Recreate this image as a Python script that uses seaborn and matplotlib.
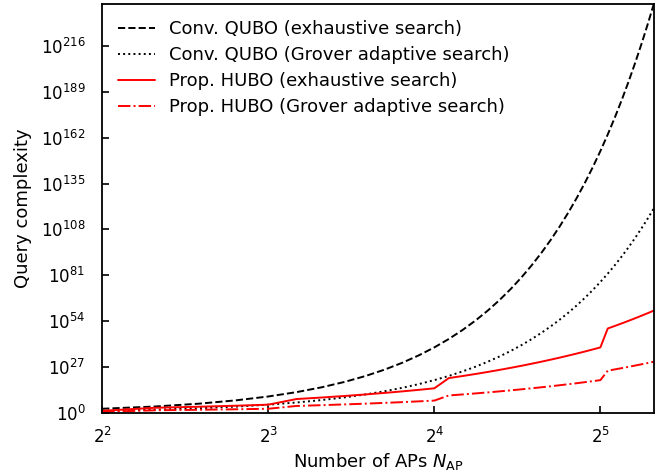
import numpy as np
import pandas as pd
import matplotlib
matplotlib.use("Agg")
import matplotlib.pyplot as plt
import seaborn as sns
from matplotlib.ticker import FixedLocator, FuncFormatter, NullLocator

# Number of APs
n_ap = list(range(4, 41))

# log10 of query complexity
conv_exh_exp = [2.41, 3.76, 5.42, 7.38, 9.63, 12.19, 15.05, 18.21, 21.67, 25.44,
                29.50, 33.87, 38.53, 43.50, 48.77, 54.34, 60.21, 66.38, 72.85, 79.62,
                86.70, 94.07, 101.75, 109.73, 118.00, 126.58, 135.46, 144.64, 154.13,
                163.91, 174.00, 184.38, 195.07, 206.06, 217.34, 228.93, 240.82]
conv_gas_exp = [1.20, 1.88, 2.71, 3.69, 4.82, 6.09, 7.53, 9.11, 10.84, 12.72,
                14.75, 16.93, 19.27, 21.75, 24.38, 27.17, 30.10, 33.19, 36.42, 39.81,
                43.35, 47.04, 50.87, 54.86, 59.00, 63.29, 67.73, 72.32, 77.06,
                81.96, 87.00, 92.19, 97.53, 103.03, 108.67, 114.46, 120.41]
prop_exh_exp = [1.20, 3.01, 3.61, 4.21, 4.82, 8.13, 9.03, 9.93, 10.84, 11.74,
                12.64, 13.55, 14.45, 20.47, 21.67, 22.88, 24.08, 25.29, 26.49, 27.69,
                28.90, 30.10, 31.31, 32.51, 33.72, 34.92, 36.12, 37.33, 38.53,
                49.67, 51.18, 52.68, 54.19, 55.69, 57.20, 58.70, 60.21]
prop_gas_exp = [0.60, 1.51, 1.81, 2.11, 2.41, 4.06, 4.52, 4.97, 5.42, 5.87,
                6.32, 6.77, 7.22, 10.24, 10.84, 11.44, 12.04, 12.64, 13.25, 13.85,
                14.45, 15.05, 15.65, 16.26, 16.86, 17.46, 18.06, 18.66, 19.27,
                24.83, 25.59, 26.34, 27.09, 27.85, 28.60, 29.35, 30.10]

labels = ["Conv. QUBO (exhaustive search)", "Conv. QUBO (Grover adaptive search)",
          "Prop. HUBO (exhaustive search)", "Prop. HUBO (Grover adaptive search)"]
y_ticks_exp = [0, 27, 54, 81, 108, 135, 162, 189, 216]
x_ticks = [4, 8, 16, 32]

sns.set_style("white")
plt.rcParams["font.family"] = ["DejaVu Sans"]
plt.rcParams["font.size"] = 13
plt.rcParams["axes.linewidth"] = 1.3
for k in ["text.color", "axes.labelcolor", "xtick.color", "ytick.color", "axes.edgecolor"]:
    plt.rcParams[k] = "black"

fig = plt.figure(figsize=(6.72, 4.74), dpi=100)
ax = fig.add_axes([0.152, 0.129, 0.821, 0.863])

series = [conv_exh_exp, conv_gas_exp, prop_exh_exp, prop_gas_exp]
colors = ["black", "black", "red", "red"]
styles = ["--", ":", "-", "-."]
for exps, lab, c, ls in zip(series, labels, colors, styles):
    df = pd.DataFrame({"N": n_ap, "Q": 10.0 ** np.array(exps)})
    sns.lineplot(data=df, x="N", y="Q", ax=ax, color=c, linestyle=ls,
                 linewidth=1.4, label=lab)

ax.set_xscale("log", base=2)
ax.set_yscale("log")
ax.set_xlim(4, 40)
ax.set_ylim(1, 10.0 ** max(conv_exh_exp))
ax.xaxis.set_major_locator(FixedLocator(x_ticks))
ax.xaxis.set_minor_locator(NullLocator())
ax.xaxis.set_major_formatter(FuncFormatter(lambda v, p: r"$2^{%d}$" % round(np.log2(v))))
ax.yaxis.set_major_locator(FixedLocator([10.0 ** e for e in y_ticks_exp]))
ax.yaxis.set_minor_locator(NullLocator())
ax.yaxis.set_major_formatter(FuncFormatter(lambda v, p: r"$10^{%d}$" % round(np.log10(v))))
ax.tick_params(axis="both", direction="in", length=5, width=1.2, labelsize=12,
               bottom=True, left=True, top=False, right=False)
ax.tick_params(axis="x", pad=10)
ax.tick_params(axis="y", pad=12)

ax.set_xlabel(r"Number of APs $N_{\mathrm{AP}}$", fontsize=13, labelpad=3)
ax.set_ylabel("Query complexity", fontsize=13, labelpad=6)
ax.legend(loc="upper left", frameon=False, fontsize=13, handlelength=2.0,
          borderaxespad=0.5, labelspacing=0.45)

fig.savefig("out.png", dpi=100)
